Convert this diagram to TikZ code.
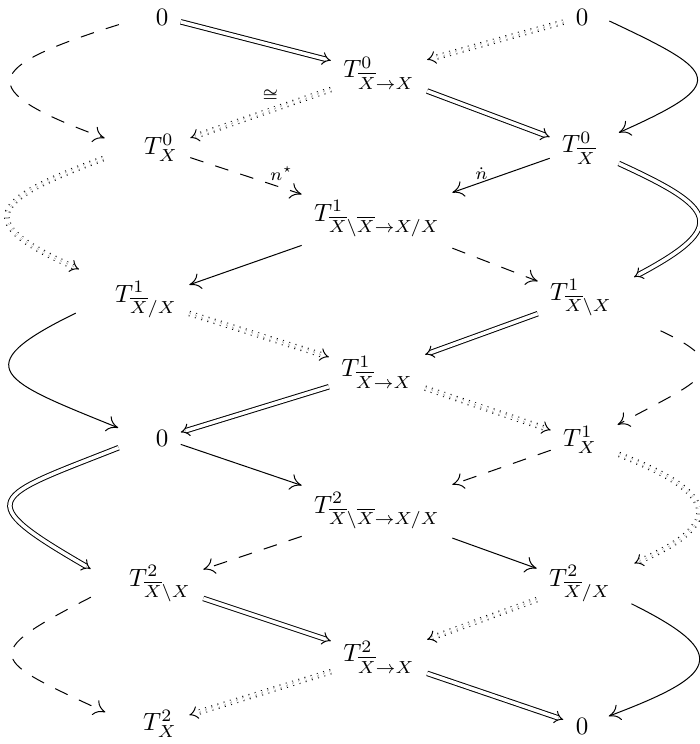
\documentclass[tikz,border=0pt]{standalone}
\usetikzlibrary{arrows.meta}
\begin{document}
\begin{tikzpicture}[x=0.4pt,y=-0.4pt,
  every node/.style={inner sep=0pt, outer sep=5pt},
  sol/.style={line width=0.4pt, -{To[length=4.5pt,width=6.5pt]}},
  dsh/.style={line width=0.4pt, -{To[length=4.5pt,width=6.5pt]}, dash pattern=on 5.5pt off 5pt},
  dbl/.style={line width=0.4pt, double, double distance=1.4pt, -Implies},
  dtt/.style={line width=0.4pt, double, double distance=1.4pt, dash pattern=on 0.4pt off 2.2pt, -Implies},
  lab/.style={font=\scriptsize, inner sep=1pt, outer sep=0pt}
]
\useasboundingbox (0,0) rectangle (699,744);
% nodes
\node (z0L) at (162,17) {$0$};
\node (z0R) at (582,17) {$0$};
\node (a0) at (379,73) {$T^0_{\overline{X}\to X}$};
\node (x0) at (161,148) {$T^0_X$};
\node (b0) at (579,148) {$T^0_{\overline{X}}$};
\node (m1) at (377,219) {$T^1_{\overline{X}\backslash\overline{X}\to X/X}$};
\node (q1) at (146,300) {$T^1_{\overline{X}/X}$};
\node (r1) at (581,298) {$T^1_{\overline{X}\backslash X}$};
\node (a1) at (377,372) {$T^1_{\overline{X}\to X}$};
\node (z1) at (162,438) {$0$};
\node (x1) at (580,440) {$T^1_X$};
\node (m2) at (377,511) {$T^2_{\overline{X}\backslash\overline{X}\to X/X}$};
\node (s2) at (160,584) {$T^2_{\overline{X}\backslash X}$};
\node (p2) at (580,584) {$T^2_{\overline{X}/X}$};
\node (a2) at (379,657) {$T^2_{\overline{X}\to X}$};
\node (x2) at (160,724) {$T^2_X$};
\node (z2) at (582,726) {$0$};
% straight connectors
\draw[dbl] (z0L) -- (a0);
\draw[dtt] (z0R) -- (a0);
\draw[dtt] (a0) -- node[lab,pos=0.43,above=2.5pt]{$\cong$} (x0);
\draw[dbl] (a0) -- (b0);
\draw[dsh] (x0) -- node[lab,pos=0.82,above=2pt]{$n^\star$} (m1);
\draw[sol] (b0) -- node[lab,pos=0.7,above=0pt]{$\dot n$} (m1);
\draw[sol] (m1) -- (q1);
\draw[dsh] (m1) -- (r1);
\draw[dtt] (q1) -- (a1);
\draw[dbl] (r1) -- (a1);
\draw[dbl] (a1) -- (z1);
\draw[dtt] (a1) -- (x1);
\draw[sol] (z1) -- (m2);
\draw[dsh] (x1) -- (m2);
\draw[dsh] (m2) -- (s2);
\draw[sol] (m2) -- (p2);
\draw[dbl] (s2) -- (a2);
\draw[dtt] (p2) -- (a2);
\draw[dtt] (a2) -- (x2);
\draw[dbl] (a2) -- (z2);
% left curves
\draw[dsh, shorten <=10.2pt, shorten >=11.5pt] (z0L.west) .. controls (-17,67) and (-30,89) .. (x0.west);
\draw[dtt, shorten <=12.2pt, shorten >=10.4pt] (x0.west) .. controls (-8,200) and (-30,221) .. (q1.155);
\draw[sol, shorten <=12pt, shorten >=10.8pt] (q1.west) .. controls (-37,368) and (3,381) .. (z1.west);
\draw[dbl, shorten <=10.6pt, shorten >=12pt] (z1.west) .. controls (-9,498) and (-30,499) .. (s2.west);
\draw[dsh, shorten <=11.6pt, shorten >=11.2pt] (s2.west) .. controls (-24,656) and (-9,659) .. (x2.west);
% right curves
\draw[sol, shorten <=3.8pt, shorten >=4.6pt] (z0R.east) .. controls (720,73) and (730,83) .. (b0.20);
\draw[dbl, shorten <=4.6pt, shorten >=4.4pt] (b0.-20) .. controls (716,208) and (730,226) .. (r1.20);
\draw[dsh, shorten <=16pt, shorten >=3.8pt] (r1.-20) .. controls (742,369) and (698,381) .. (x1.20);
\draw[dtt, shorten <=4.2pt, shorten >=4.8pt] (x1.-20) .. controls (714,492) and (729,522) .. (p2.20);
\draw[sol, shorten <=3.6pt, shorten >=3.4pt] (p2.-20) .. controls (735,655) and (715,676) .. (z2.20);
\end{tikzpicture}
\end{document}
